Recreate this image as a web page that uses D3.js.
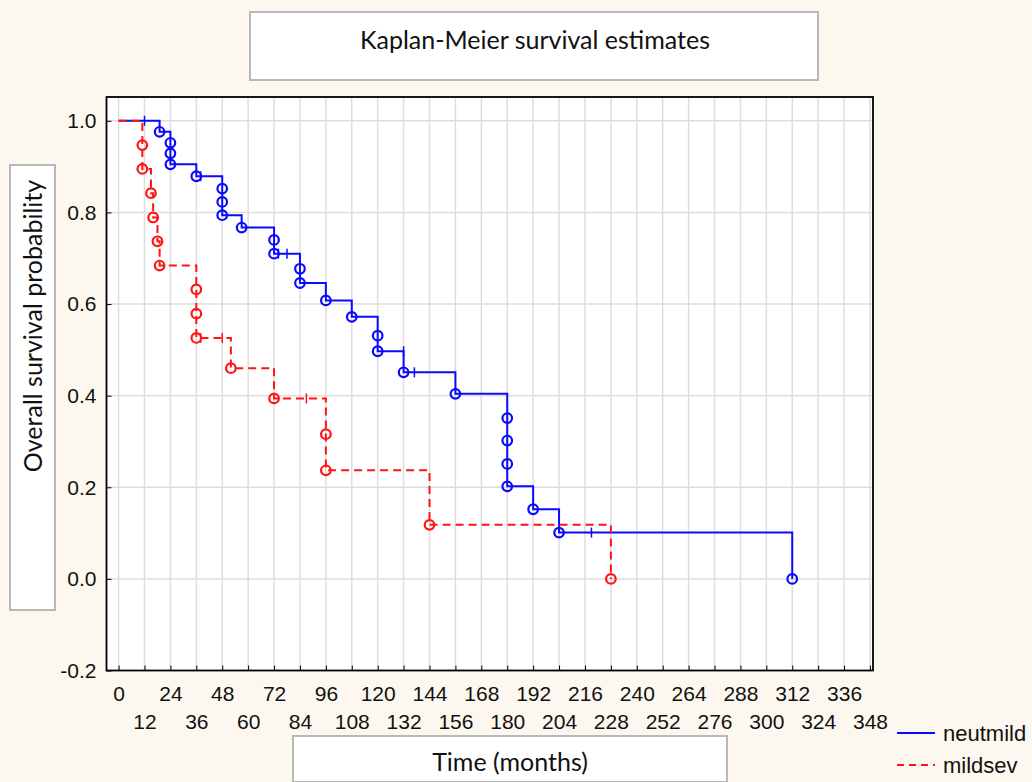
<!DOCTYPE html>
<html>
<head>
<meta charset="utf-8">
<script src="https://cdn.jsdelivr.net/npm/d3@7"></script>
<style>
  body { margin: 0; background: #fdf8ef; }
  svg { display: block; }
</style>
</head>
<body>
<div id="chart"></div>
<script>
const groups = ['neutmild', 'mildsev']

// neutmild: event times (months) and survival right after each event
const neutTimes = [19, 24, 24, 24, 36, 48, 48, 48, 57, 72, 72, 84, 84, 96, 108, 120, 120, 132, 156, 180, 180, 180, 180, 192, 204, 312]
const neutSurv = [0.976, 0.952, 0.929, 0.905, 0.879, 0.852, 0.823, 0.794, 0.767, 0.740, 0.710, 0.677, 0.646, 0.608, 0.572, 0.531, 0.497, 0.451, 0.404, 0.351, 0.302, 0.251, 0.202, 0.152, 0.101, 0.0]
const neutCensored = [12, 38, 74, 78, 132, 137, 219]

// mildsev
const sevTimes = [11, 11, 15, 16, 18, 19, 36, 36, 36, 52, 72, 96, 96, 144, 228]
const sevSurv = [0.947, 0.895, 0.842, 0.789, 0.737, 0.684, 0.632, 0.579, 0.526, 0.460, 0.394, 0.316, 0.237, 0.118, 0.0]
const sevCensored = [38, 48, 87]

const xTicks = d3.range(0, 349, 12)
const yTicks = [-0.2, 0, 0.2, 0.4, 0.6, 0.8, 1.0]

const W = 1032, H = 782
const frame = {l: 106.5, r: 873, t: 97, b: 670.5}
const tickFont = '"Liberation Sans", Arial, sans-serif'
const labelFont = 'Lato, "Open Sans", sans-serif'

const svg = d3.select('#chart').append('svg')
    .attr('width', W)
    .attr('height', H)

const x = d3.scaleLinear().domain([-5.6, 349.4]).range([frame.l, frame.r])
const y = d3.scaleLinear().domain([-0.2, 1.052]).range([frame.b, frame.t])

// plot area
svg.append('rect')
    .attr('x', frame.l).attr('y', frame.t)
    .attr('width', frame.r - frame.l).attr('height', frame.b - frame.t)
    .attr('fill', '#fff')

// grid
svg.append('g').selectAll('line')
    .data(xTicks)
    .join('line')
    .attr('x1', d => x(d)).attr('x2', d => x(d))
    .attr('y1', frame.t).attr('y2', frame.b)
    .attr('stroke', '#dedede').attr('stroke-width', 1.5)
svg.append('g').selectAll('line')
    .data(yTicks.filter(d => d > -0.2))
    .join('line')
    .attr('x1', frame.l).attr('x2', frame.r)
    .attr('y1', d => y(d)).attr('y2', d => y(d))
    .attr('stroke', '#dedede').attr('stroke-width', 1.5)

// axes with inward ticks
const xAxis = svg.append('g')
    .attr('transform', `translate(0,${frame.b})`)
    .call(d3.axisBottom(x).tickValues(xTicks).tickSize(-5).tickPadding(13))
xAxis.select('.domain').remove()
xAxis.selectAll('text')
    .attr('y', (d, i) => i % 2 ? 51 : 23)
    .attr('dy', '0.35em')
    .style('font', `21px ${tickFont}`)
    .attr('fill', '#111')

const yAxis = svg.append('g')
    .attr('transform', `translate(${frame.l},0)`)
    .call(d3.axisLeft(y).tickValues(yTicks).tickSize(-5).tickFormat(d => d.toFixed(1)))
yAxis.select('.domain').remove()
yAxis.selectAll('text')
    .attr('x', -10)
    .style('font', `21px ${tickFont}`)
    .attr('fill', '#111')

svg.append('rect')
    .attr('x', frame.l).attr('y', frame.t)
    .attr('width', frame.r - frame.l).attr('height', frame.b - frame.t)
    .attr('fill', 'none')
    .attr('stroke', '#000').attr('stroke-width', 1.8)

// KM curves
function stepPoints(times, surv) {
    const pts = [[0, 1]]
    let prev = 1
    times.forEach((t, i) => {
        pts.push([t, prev])
        pts.push([t, surv[i]])
        prev = surv[i]
    })
    return pts
}
function survAt(times, surv, t) {
    let s = 1
    times.forEach((d, i) => { if (d < t) s = surv[i] })
    return s
}

const line = d3.line().x(d => x(d[0])).y(d => y(d[1]))
const series = [
    {name: groups[0], times: neutTimes, surv: neutSurv, cens: neutCensored, color: '#0a0aff', dash: null},
    {name: groups[1], times: sevTimes, surv: sevSurv, cens: sevCensored, color: '#ff1414', dash: '8,5'},
]

series.forEach(s => {
    const g = svg.append('g')
    g.append('path')
        .attr('d', line(stepPoints(s.times, s.surv)))
        .attr('fill', 'none')
        .attr('stroke', s.color)
        .attr('stroke-width', 2)
        .attr('stroke-dasharray', s.dash)
    g.selectAll('circle')
        .data(s.times.map((t, i) => [t, s.surv[i]]))
        .join('circle')
        .attr('cx', d => x(d[0]))
        .attr('cy', d => y(d[1]))
        .attr('r', 4.8)
        .attr('fill', 'none')
        .attr('stroke', s.color)
        .attr('stroke-width', 2.2)
    g.selectAll('line.cens')
        .data(s.cens)
        .join('line')
        .attr('class', 'cens')
        .attr('x1', d => x(d)).attr('x2', d => x(d))
        .attr('y1', d => y(survAt(s.times, s.surv, d)) - 5)
        .attr('y2', d => y(survAt(s.times, s.surv, d)) + 5)
        .attr('stroke', s.color)
        .attr('stroke-width', 1.5)
})

// title box
svg.append('rect')
    .attr('x', 250).attr('y', 12).attr('width', 568).attr('height', 68)
    .attr('fill', '#fff').attr('stroke', '#b8b8b8').attr('stroke-width', 2)
svg.append('text')
    .attr('x', 535).attr('y', 40).attr('dy', '0.35em')
    .attr('text-anchor', 'middle')
    .style('font', `25px ${labelFont}`)
    .attr('fill', '#111')
    .text('Kaplan-Meier survival estimates')

// y label box
svg.append('rect')
    .attr('x', 10).attr('y', 165).attr('width', 45).attr('height', 445)
    .attr('fill', '#fff').attr('stroke', '#b8b8b8').attr('stroke-width', 2)
svg.append('text')
    .attr('transform', 'translate(33,326) rotate(-90)')
    .attr('dy', '0.35em')
    .attr('text-anchor', 'middle')
    .style('font', `25px ${labelFont}`)
    .attr('fill', '#111')
    .text('Overall survival probability')

// x label box
svg.append('rect')
    .attr('x', 293).attr('y', 736).attr('width', 434).attr('height', 46)
    .attr('fill', '#fff').attr('stroke', '#b8b8b8').attr('stroke-width', 2)
svg.append('text')
    .attr('x', 510).attr('y', 762).attr('dy', '0.35em')
    .attr('text-anchor', 'middle')
    .style('font', `25px ${labelFont}`)
    .attr('fill', '#111')
    .text('Time (months)')

// legend
const legend = svg.append('g').selectAll('g')
    .data(series)
    .join('g')
    .attr('transform', (d, i) => `translate(897,${733 + i * 32})`)
legend.append('line')
    .attr('x1', 0).attr('x2', 38)
    .attr('stroke', d => d.color)
    .attr('stroke-width', 2)
    .attr('stroke-dasharray', d => d.dash ? '7,5' : null)
legend.append('text')
    .attr('x', 46).attr('dy', '0.35em')
    .style('font', `22px ${tickFont}`)
    .attr('fill', '#111')
    .text(d => d.name)
</script>
</body>
</html>
